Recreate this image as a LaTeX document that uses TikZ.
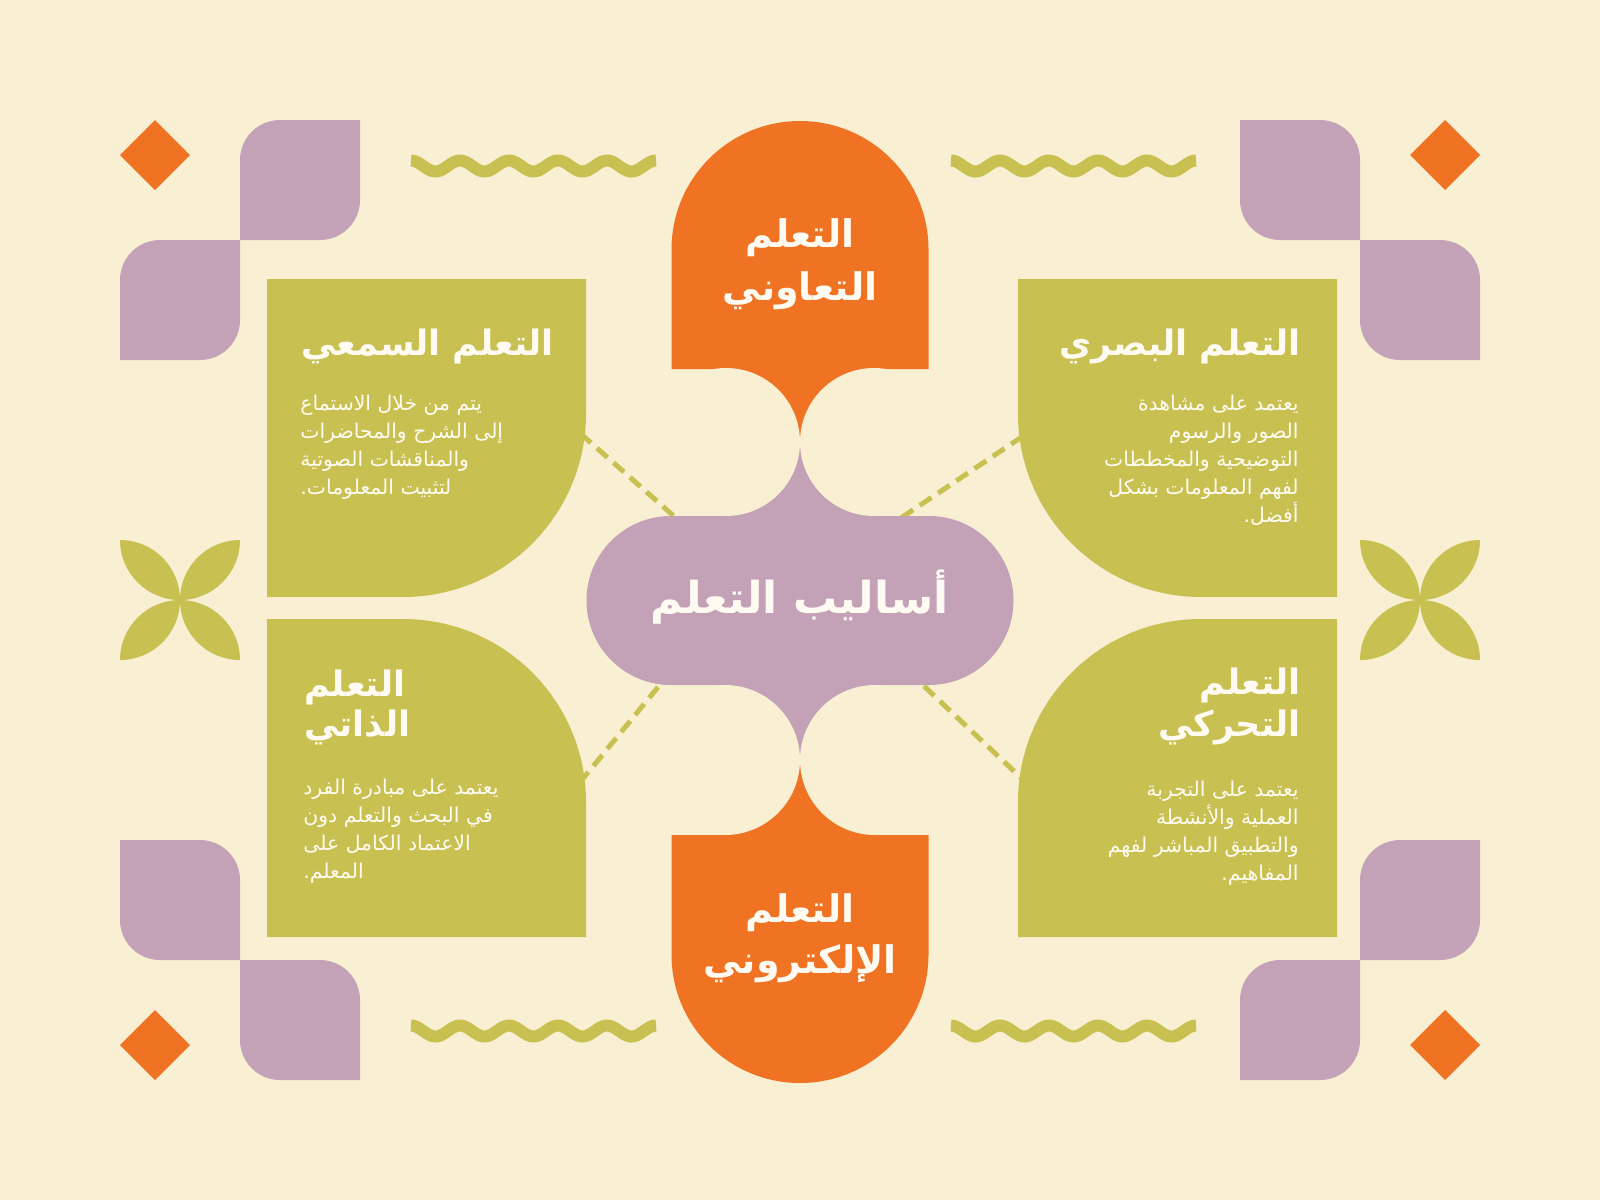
\documentclass[tikz,border=0pt]{standalone}
\usepackage{fontspec}
\newfontfamily\arabicfont[Script=Arabic]{DejaVu Sans}
\TeXXeTstate=1
\definecolor{bg}{HTML}{F9EFD3}
\definecolor{lime}{HTML}{C8C152}
\definecolor{mauve}{HTML}{C3A1B6}
\definecolor{tang}{HTML}{F07323}
\definecolor{ink}{HTML}{FFFBF2}
\begin{document}
\begin{tikzpicture}[x=0.5pt,y=-0.5pt,
  bigtitle/.style={font=\arabicfont\bfseries\fontsize{22}{27}\selectfont,text=ink,inner sep=0pt},
  headtext/.style={font=\arabicfont\bfseries\fontsize{19}{24}\selectfont,text=ink,inner sep=0pt},
  boxtitle/.style={font=\arabicfont\bfseries\fontsize{17.5}{22}\selectfont,text=ink,inner sep=0pt},
  bodytext/.style={font=\arabicfont\fontsize{10.2}{14}\selectfont,text=ink,inner sep=0pt},
  wavy/.style={draw=lime,line width=6pt},
  link/.style={draw=lime,line width=2.5pt,dash pattern=on 7pt off 4pt}]
\fill[bg] (0,0) rectangle (1600,1200);
\useasboundingbox (0,0) rectangle (1600,1200);

% corner decorations (mirrored)
\foreach \sx/\sy in {1/1,-1/1,1/-1,-1/-1}{
\begin{scope}[shift={(800,600)},xscale=\sx,yscale=\sy,shift={(-800,-600)}]
  \fill[tang] (155,120) -- (190,155) -- (155,190) -- (120,155) -- cycle;
  \fill[mauve] (240,160) arc[start angle=180,end angle=270,radius=40] -- (360,120) -- (360,200)
     arc[start angle=0,end angle=90,radius=40] -- (240,240) -- cycle;
  \fill[mauve] (120,280) arc[start angle=180,end angle=270,radius=40] -- (240,240) -- (240,320)
     arc[start angle=0,end angle=90,radius=40] -- (120,360) -- cycle;
\end{scope}}

% flowers
\foreach \cx in {180,1420}{
  \foreach \r in {0,90,180,270}{
    \fill[lime,rotate around={\r:(\cx,600)}] (\cx-60,540) arc[start angle=180,end angle=90,radius=60]
      arc[start angle=0,end angle=-90,radius=60] -- cycle;}}

% waves
\foreach \wx/\wy in {411/166,951/166,411/1031,951/1031}{
  \draw[wavy] plot[domain=0:245,samples=120,smooth] ({\wx+\x},{\wy-5.5*cos(7.3469*\x)});}

% connector end points
\coordinate (tlA) at (564,419);
\coordinate (tlB) at (693,533);
\coordinate (trA) at (1041,424);
\coordinate (trB) at (886,528);
\coordinate (blA) at (672,670);
\coordinate (blB) at (572,792);
\coordinate (brA) at (908,671);
\coordinate (brB) at (1035,791);
\draw[link] (tlA) -- (tlB);
\draw[link] (trA) -- (trB);
\draw[link] (blA) -- (blB);
\draw[link] (brA) -- (brB);

% green boxes
\fill[lime] (267,279) -- (586,279) -- (586,414) arc[start angle=0,end angle=90,radius=183] -- (267,597) -- cycle;
\fill[lime] (267,937) -- (267,619) -- (403,619) arc[start angle=-90,end angle=0,radius=183] -- (586,937) -- cycle;
\fill[lime] (1337,279) -- (1018,279) -- (1018,414) arc[start angle=180,end angle=90,radius=183] -- (1337,597) -- cycle;
\fill[lime] (1337,937) -- (1337,619) -- (1201,619) arc[start angle=270,end angle=180,radius=183] -- (1018,937) -- cycle;

% orange shapes
\fill[tang] (671.5,369) -- (671.5,249.5) arc[start angle=180,end angle=360,radius=128.5] -- (928.5,369) -- cycle;
\fill[tang] (671.5,835) -- (928.5,835) -- (928.5,954.5) arc[start angle=0,end angle=180,radius=128.5] -- cycle;

% purple centre
\fill[mauve] (671,516) -- (929,516) arc[start angle=-90,end angle=90,radius=84.5] -- (671,685)
   arc[start angle=90,end angle=270,radius=84.5] -- cycle;

% necks
\fill[tang] (726,360) rectangle (874,442);
\fill[mauve] (726,442) rectangle (874,520);
\fill[bg] (726,442) circle[radius=74];
\fill[bg] (874,442) circle[radius=74];
\fill[mauve] (725,680) rectangle (875,760);
\fill[tang] (725,760) rectangle (875,840);
\fill[bg] (725,760) circle[radius=75];
\fill[bg] (875,760) circle[radius=75];

% texts
\node[bigtitle,anchor=base] (main) at (800,613) {\beginR أساليب التعلم\endR};
\node[headtext,anchor=base] (coopA) at (800,247) {\beginR التعلم\endR};
\node[headtext,anchor=base] (coopB) at (800,300) {\beginR التعاوني\endR};
\node[headtext,anchor=base] (elecA) at (800,922) {\beginR التعلم\endR};
\node[headtext,anchor=base] (elecB) at (800,973) {\beginR الإلكتروني\endR};

\node[boxtitle,anchor=base west] (audT) at (301,355) {\beginR التعلم السمعي\endR};
\node[boxtitle,anchor=base east] (visT) at (1301,355) {\beginR التعلم البصري\endR};
\node[boxtitle,anchor=base west] (selfA) at (304,696) {\beginR التعلم\endR};
\node[boxtitle,anchor=base west] (selfB) at (304,736) {\beginR الذاتي\endR};
\node[boxtitle,anchor=base east] (kinA) at (1301,694) {\beginR التعلم\endR};
\node[boxtitle,anchor=base east] (kinB) at (1301,736) {\beginR التحركي\endR};

\foreach \t [count=\i] in {يتم من خلال الاستماع,إلى الشرح والمحاضرات,والمناقشات الصوتية,لتثبيت المعلومات.}
  \node[bodytext,anchor=base west] (aud\i) at (300,{410+28*(\i-1)}) {\beginR\t\endR};
\foreach \t [count=\i] in {يعتمد على مشاهدة,الصور والرسوم,التوضيحية والمخططات,لفهم المعلومات بشكل,أفضل.}
  \node[bodytext,anchor=base east] (vis\i) at (1299,{410+28*(\i-1)}) {\beginR\t\endR};
\foreach \t [count=\i] in {يعتمد على مبادرة الفرد,في البحث والتعلم دون,الاعتماد الكامل على,المعلم.}
  \node[bodytext,anchor=base west] (self\i) at (303,{794+28*(\i-1)}) {\beginR\t\endR};
\foreach \t [count=\i] in {يعتمد على التجربة,العملية والأنشطة,والتطبيق المباشر لفهم,المفاهيم.}
  \node[bodytext,anchor=base east] (kin\i) at (1299,{796+28*(\i-1)}) {\beginR\t\endR};
\end{tikzpicture}
\end{document}
